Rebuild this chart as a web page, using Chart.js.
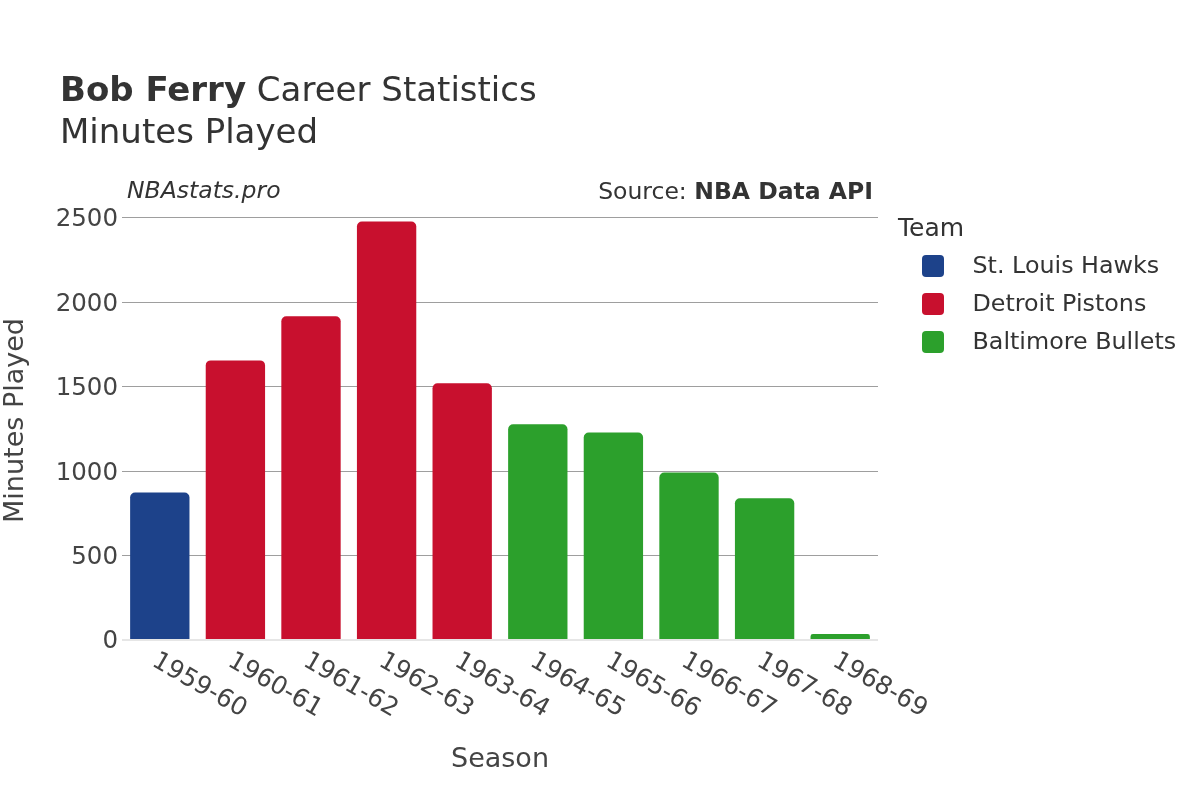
<!DOCTYPE html>
<html>
<head>
<meta charset="utf-8">
<title>Bob Ferry Career Statistics</title>
<script src="https://cdn.jsdelivr.net/npm/chart.js@4.4.1/dist/chart.umd.min.js"></script>
<style>
    html, body { margin: 0; padding: 0; background: #fff; }
    #wrap { position: relative; width: 1200px; height: 800px; font-family: "DejaVu Sans", sans-serif; color: #333; }
    #wrap canvas { position: absolute; left: 0; top: 0; }
    .txt { position: absolute; white-space: nowrap; line-height: 1; }
    .swatch { position: absolute; width: 22px; height: 22px; border-radius: 4px; }
</style>
</head>
<body>
<div id="wrap">
    <canvas id="chart" width="1200" height="800"></canvas>
    <div class="txt" style="left:60px;top:72px;font-size:34px"><b>Bob Ferry</b> Career Statistics</div>
    <div class="txt" style="left:60px;top:114px;font-size:34px">Minutes Played</div>
    <div class="txt" style="left:127px;top:179px;font-size:23.5px;font-style:italic">NBAstats.pro</div>
    <div class="txt" style="right:327px;top:180px;font-size:23.5px">Source: <b>NBA Data API</b></div>
    <div class="txt" style="left:898px;top:215px;font-size:25px">Team</div>
    <div id="legend"></div>
</div>
<script>
const seasons = ["1959-60", "1960-61", "1961-62", "1962-63", "1963-64",
    "1964-65", "1965-66", "1966-67", "1967-68", "1968-69"];
const minutes = [873, 1656, 1917, 2478, 1521, 1278, 1229, 992, 839, 35];
const seasonTeams = ["St. Louis Hawks", "Detroit Pistons", "Detroit Pistons", "Detroit Pistons",
    "Detroit Pistons", "Baltimore Bullets", "Baltimore Bullets", "Baltimore Bullets",
    "Baltimore Bullets", "Baltimore Bullets"];
const teams = ["St. Louis Hawks", "Detroit Pistons", "Baltimore Bullets"];
const teamColors = ["#1D428A", "#C8102E", "#2CA02C"];
const yTicks = [0, 500, 1000, 1500, 2000, 2500];

function buildLegend() {
    const box = document.getElementById("legend");
    teams.forEach((team, i) => {
        const sw = document.createElement("div");
        sw.className = "swatch";
        sw.style.left = "922px";
        sw.style.top = (254.5 + i * 38) + "px";
        sw.style.background = teamColors[i];
        box.appendChild(sw);

        const label = document.createElement("div");
        label.className = "txt";
        label.style.left = "972.5px";
        label.style.top = (254 + i * 38) + "px";
        label.style.fontSize = "23.8px";
        label.textContent = team;
        box.appendChild(label);
    });
}

// x labels run down to the right, which chart.js can't rotate that way itself
const seasonLabels = {
    id: "seasonLabels",
    afterDraw(chart) {
        const ctx = chart.ctx;
        const x = chart.scales.x;
        ctx.save();
        ctx.font = '25px "DejaVu Sans"';
        ctx.fillStyle = "#444";
        ctx.textAlign = "left";
        ctx.textBaseline = "alphabetic";
        seasons.forEach((s, i) => {
            ctx.save();
            ctx.translate(x.getPixelForTick(i) - 9, 665);
            ctx.rotate(Math.PI / 6);
            ctx.fillText(s, 0, 0);
            ctx.restore();
        });
        ctx.restore();
    }
};

const datasets = teams.map((team, k) => ({
    label: team,
    data: minutes.map((v, i) => (seasonTeams[i] === team ? v : null)),
    backgroundColor: teamColors[k],
    borderRadius: 5,
    borderSkipped: "start",
    barPercentage: 0.785,
    categoryPercentage: 1
}));

buildLegend();

new Chart(document.getElementById("chart"), {
    type: "bar",
    data: { labels: seasons, datasets },
    plugins: [seasonLabels],
    options: {
        responsive: false,
        animation: false,
        layout: { padding: { top: 201, right: 322, bottom: 0, left: 0 } },
        plugins: {
            legend: { display: false },
            tooltip: { enabled: false }
        },
        scales: {
            x: {
                stacked: true,
                grid: { display: false },
                border: { display: false },
                ticks: { display: false },
                title: {
                    display: true,
                    text: "Season",
                    color: "#444",
                    font: { family: "DejaVu Sans", size: 27, lineHeight: 1.2 },
                    padding: { top: 0, bottom: 24 }
                },
                afterFit: (scale) => { scale.height = 160; }
            },
            y: {
                stacked: true,
                min: 0,
                max: 2600,
                afterBuildTicks: (scale) => { scale.ticks = yTicks.map((v) => ({ value: v })); },
                grid: {
                    drawTicks: false,
                    color: (c) => (c.tick && c.tick.value === 0 ? "#e6e6e6" : "#9e9e9e"),
                    lineWidth: (c) => (c.tick && c.tick.value === 0 ? 2 : 1)
                },
                border: { display: false },
                ticks: {
                    padding: 4,
                    labelOffset: 2,
                    color: "#444",
                    font: { family: "DejaVu Sans", size: 24.5 },
                    callback: (v) => String(v)
                },
                title: {
                    display: true,
                    text: "Minutes Played",
                    color: "#444",
                    font: { family: "DejaVu Sans", size: 27, lineHeight: 1.2 },
                    padding: { top: 0, bottom: 0 }
                },
                afterFit: (scale) => { scale.width = 122; }
            }
        }
    }
});
</script>
</body>
</html>
